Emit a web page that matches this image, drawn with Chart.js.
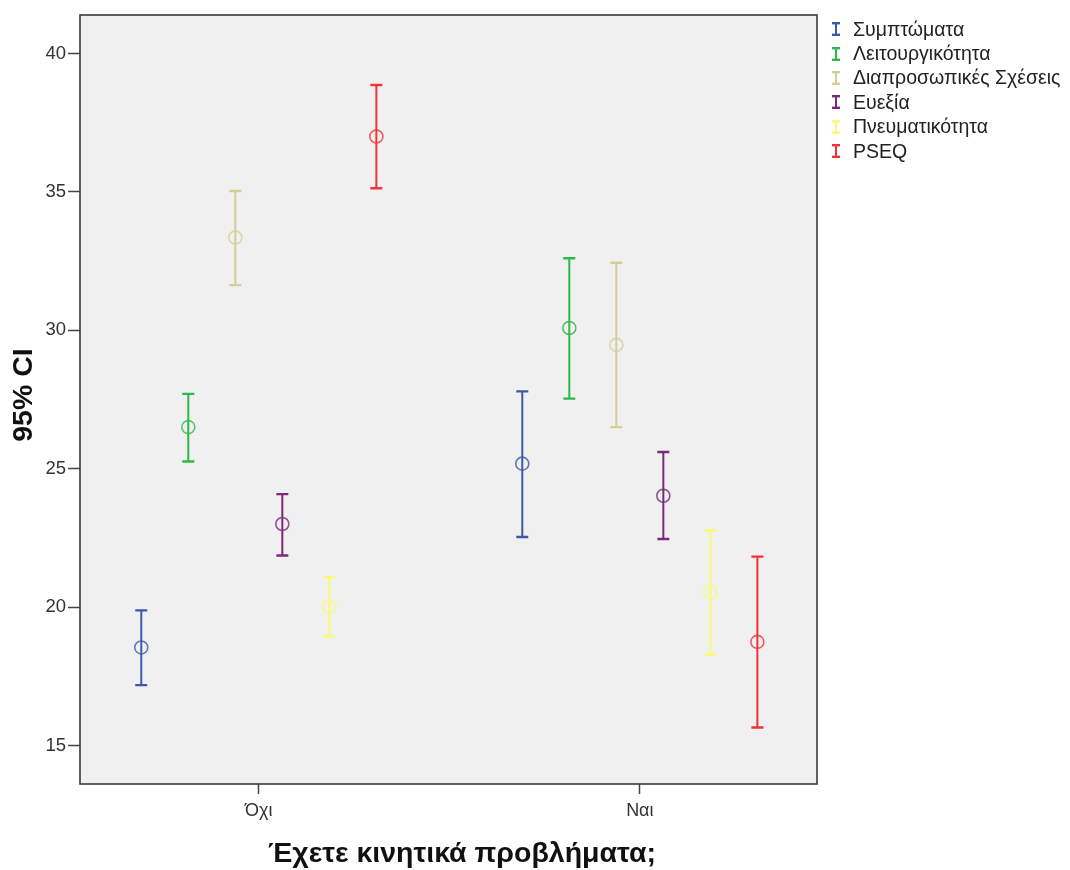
<!DOCTYPE html>
<html>
<head>
<meta charset="utf-8">
<script src="https://cdn.jsdelivr.net/npm/chart.js@4.4.0/dist/chart.umd.min.js"></script>
<style>
  html, body { margin: 0; padding: 0; background: #ffffff; }
  #wrap { position: relative; width: 1070px; height: 870px; }
  #c { position: absolute; left: 0; top: 0; }
  #legend { position: absolute; left: 832px; top: 17px; font: 19.5px "Liberation Sans", Arial, sans-serif; color: #222; }
  #legend .row { height: 24.4px; display: flex; align-items: center; white-space: nowrap; }
  #legend svg { margin-right: 13px; flex: none; }
</style>
</head>
<body>
<div id="wrap">
  <canvas id="c" width="1070" height="870"></canvas>
  <div id="legend"></div>
</div>
<script>
// Groups on the x axis
const categories = ['Όχι', 'Ναι'];

// Scales (series), in legend order
const seriesNames = ['Συμπτώματα', 'Λειτουργικότητα', 'Διαπροσωπικές Σχέσεις', 'Ευεξία', 'Πνευματικότητα', 'PSEQ'];
const seriesColors = ['#3E58AC', '#2EB848', '#D3CE97', '#7C287D', '#FBF873', '#EF3338'];

// Means per group (Όχι, Ναι)
const meanSymptoms     = [18.54, 25.18];
const meanFunction     = [26.50, 30.08];
const meanRelations    = [33.35, 29.47];
const meanWellbeing    = [23.00, 24.02];
const meanSpiritual    = [20.01, 20.53];
const meanPSEQ         = [37.00, 18.74];

// 95% confidence intervals per group: [lower, upper]
const ciSymptoms  = [[17.18, 19.88], [22.53, 27.79]];
const ciFunction  = [[25.26, 27.70], [27.53, 32.60]];
const ciRelations = [[31.63, 35.03], [26.50, 32.44]];
const ciWellbeing = [[21.86, 24.08], [22.46, 25.60]];
const ciSpiritual = [[18.94, 21.08], [18.28, 22.77]];
const ciPSEQ      = [[35.13, 38.86], [15.65, 21.82]];

// Value axis ticks
const yTicks = [15, 20, 25, 30, 35, 40];

const allMeans = [meanSymptoms, meanFunction, meanRelations, meanWellbeing, meanSpiritual, meanPSEQ];
const allCIs = [ciSymptoms, ciFunction, ciRelations, ciWellbeing, ciSpiritual, ciPSEQ];

// horizontal spread of the series within a group (in category units)
const clusterStep = 0.1234;

function withAlpha(hex, a) {
  const n = parseInt(hex.slice(1), 16);
  return `rgba(${(n >> 16) & 255},${(n >> 8) & 255},${n & 255},${a})`;
}

const datasets = seriesNames.map((name, i) => ({
  label: name,
  data: categories.map((c, j) => ({
    x: j + (i - (seriesNames.length - 1) / 2) * clusterStep,
    y: allMeans[i][j],
    lo: allCIs[i][j][0],
    hi: allCIs[i][j][1]
  })),
  showLine: false,
  pointStyle: 'circle',
  pointRadius: 6.5,
  pointBorderWidth: 1.6,
  pointBackgroundColor: 'rgba(0,0,0,0)',
  pointBorderColor: withAlpha(seriesColors[i], 0.8),
  errColor: seriesColors[i]
}));

const FONT = '"Liberation Sans", Arial, sans-serif';

// grey plot background and dark frame
const framePlugin = {
  id: 'frame',
  beforeDraw(chart) {
    const { ctx, chartArea: a } = chart;
    ctx.save();
    ctx.fillStyle = '#f0f0f0';
    ctx.fillRect(a.left, a.top, a.right - a.left, a.bottom - a.top);
    ctx.restore();
  },
  afterDraw(chart) {
    const { ctx, chartArea: a } = chart;
    ctx.save();
    ctx.strokeStyle = '#3a3a3a';
    ctx.lineWidth = 1.6;
    ctx.strokeRect(a.left, a.top, a.right - a.left, a.bottom - a.top);
    ctx.restore();
  }
};

// vertical CI whiskers with caps
const errorBarPlugin = {
  id: 'errorBars',
  beforeDatasetsDraw(chart) {
    const { ctx, scales: { x, y } } = chart;
    ctx.save();
    chart.data.datasets.forEach(ds => {
      ctx.strokeStyle = ds.errColor;
      ds.data.forEach(p => {
        const px = x.getPixelForValue(p.x);
        const yt = y.getPixelForValue(p.hi);
        const yb = y.getPixelForValue(p.lo);
        ctx.lineWidth = 2;
        ctx.beginPath();
        ctx.moveTo(px, yt);
        ctx.lineTo(px, yb);
        ctx.stroke();
        ctx.lineWidth = 2.4;
        ctx.beginPath();
        ctx.moveTo(px - 6, yt); ctx.lineTo(px + 6, yt);
        ctx.moveTo(px - 6, yb); ctx.lineTo(px + 6, yb);
        ctx.stroke();
      });
    });
    ctx.restore();
  }
};

// axis titles
const axisTitlePlugin = {
  id: 'axisTitles',
  afterDraw(chart) {
    const { ctx } = chart;
    ctx.save();
    ctx.fillStyle = '#111';
    ctx.textAlign = 'center';
    ctx.textBaseline = 'middle';
    ctx.font = `bold 28.5px ${FONT}`;
    ctx.fillText('Έχετε κινητικά προβλήματα;', 462, 854);
    ctx.translate(24, 395);
    ctx.rotate(-Math.PI / 2);
    ctx.fillText('95% CI', 0, 0);
    ctx.restore();
  }
};

new Chart(document.getElementById('c'), {
  type: 'scatter',
  data: { datasets },
  options: {
    responsive: false,
    animation: false,
    devicePixelRatio: 1,
    events: [],
    layout: { padding: { left: 0, top: 15, right: 253, bottom: 0 } },
    plugins: { legend: { display: false }, tooltip: { enabled: false } },
    scales: {
      x: {
        type: 'linear',
        min: -0.4693,
        max: 1.465,
        afterBuildTicks(scale) { scale.ticks = categories.map((c, i) => ({ value: i })); },
        afterFit(scale) { scale.height = 86; },
        ticks: {
          autoSkip: false, maxRotation: 0, padding: 6,
          color: '#333', font: { family: FONT, size: 18 },
          callback: (v) => categories[Math.round(v)]
        },
        grid: { drawOnChartArea: false, drawTicks: true, tickLength: 10, tickColor: '#444', tickWidth: 1.5 },
        border: { display: false }
      },
      y: {
        min: 13.606,
        max: 41.39,
        afterBuildTicks(scale) { scale.ticks = yTicks.map(v => ({ value: v })); },
        afterFit(scale) { scale.width = 80; },
        ticks: { padding: 2, color: '#333', font: { family: FONT, size: 18.5 } },
        grid: { drawOnChartArea: false, drawTicks: true, tickLength: 12, tickColor: '#444', tickWidth: 1.5 },
        border: { display: false }
      }
    }
  },
  plugins: [framePlugin, errorBarPlugin, axisTitlePlugin]
});

// legend
const legend = document.getElementById('legend');
seriesNames.forEach((name, i) => {
  const row = document.createElement('div');
  row.className = 'row';
  const c = seriesColors[i];
  row.innerHTML =
    `<svg width="8" height="14" viewBox="0 0 8 14">` +
    `<line x1="4" y1="1" x2="4" y2="13" stroke="${c}" stroke-width="2"/>` +
    `<line x1="0" y1="1.2" x2="8" y2="1.2" stroke="${c}" stroke-width="2.4"/>` +
    `<line x1="0" y1="12.8" x2="8" y2="12.8" stroke="${c}" stroke-width="2.4"/>` +
    `</svg><span>${name}</span>`;
  legend.appendChild(row);
});
</script>
</body>
</html>
